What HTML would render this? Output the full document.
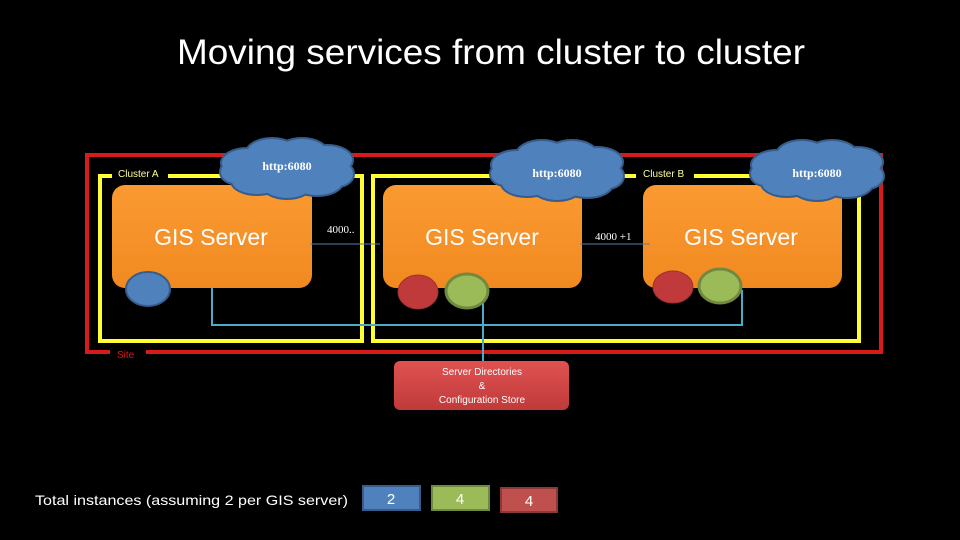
<!DOCTYPE html>
<html><head><meta charset="utf-8"><style>
html,body{margin:0;padding:0;background:#000;}
svg{display:block;}
text{font-family:"Liberation Sans",Calibri,sans-serif;}
</style></head><body>
<svg width="960" height="540" viewBox="0 0 960 540" xmlns="http://www.w3.org/2000/svg">
<defs>
<linearGradient id="og" x1="0" y1="0" x2="0" y2="1"><stop offset="0" stop-color="#fb9a32"/><stop offset="1" stop-color="#f08a20"/></linearGradient>
<linearGradient id="rg" x1="0" y1="0" x2="0" y2="1"><stop offset="0" stop-color="#e05252"/><stop offset="1" stop-color="#c03a3a"/></linearGradient>
<g id="cloud">
<g fill="#4f81bd" stroke="#385d8a" stroke-width="4">
<ellipse cx="-40" cy="-5" rx="25" ry="14"/><ellipse cx="-15" cy="-15" rx="25" ry="14"/><ellipse cx="15" cy="-15" rx="25" ry="14"/><ellipse cx="40" cy="-8" rx="25" ry="14"/><ellipse cx="50" cy="6" rx="16" ry="12"/><ellipse cx="30" cy="14" rx="25" ry="13"/><ellipse cx="0" cy="16" rx="25" ry="14"/><ellipse cx="-30" cy="13" rx="25" ry="13"/><ellipse cx="-52" cy="4" rx="14" ry="11"/>
</g>
<g fill="#4f81bd">
<ellipse cx="-40" cy="-5" rx="25" ry="14"/><ellipse cx="-15" cy="-15" rx="25" ry="14"/><ellipse cx="15" cy="-15" rx="25" ry="14"/><ellipse cx="40" cy="-8" rx="25" ry="14"/><ellipse cx="50" cy="6" rx="16" ry="12"/><ellipse cx="30" cy="14" rx="25" ry="13"/><ellipse cx="0" cy="16" rx="25" ry="14"/><ellipse cx="-30" cy="13" rx="25" ry="13"/><ellipse cx="-52" cy="4" rx="14" ry="11"/><ellipse cx="0" cy="0" rx="50" ry="18"/>
</g>
</g>
</defs>
<text x="177" y="64" font-size="35" fill="#fff" textLength="628" lengthAdjust="spacingAndGlyphs">Moving services from cluster to cluster</text>

<rect x="87" y="155" width="794" height="197" fill="none" stroke="#d71a1a" stroke-width="4"/>
<rect x="110" y="346" width="36" height="12" fill="#000"/>
<text x="117" y="358" font-size="10" fill="#d71a1a">Site</text>

<rect x="100" y="176" width="262" height="165" fill="none" stroke="#ffff33" stroke-width="4"/>
<rect x="373" y="176" width="486" height="165" fill="none" stroke="#ffff33" stroke-width="4"/>
<rect x="112" y="168" width="56" height="14" fill="#000"/>
<text x="118" y="177" font-size="10" fill="#ffff99">Cluster A</text>
<rect x="636" y="168" width="58" height="14" fill="#000"/>
<text x="643" y="177" font-size="10" fill="#ffff99">Cluster B</text>

<rect x="112" y="185" width="200" height="103" rx="13" fill="url(#og)"/>
<rect x="383" y="185" width="199" height="103" rx="13" fill="url(#og)"/>
<rect x="643" y="185" width="199" height="103" rx="13" fill="url(#og)"/>
<text x="211" y="245" font-size="23" fill="#fff" text-anchor="middle">GIS Server</text>
<text x="482" y="245" font-size="23" fill="#fff" text-anchor="middle">GIS Server</text>
<text x="741" y="245" font-size="23" fill="#fff" text-anchor="middle">GIS Server</text>

<line x1="310" y1="244" x2="380" y2="244" stroke="#5a7ba8" stroke-width="1"/>
<line x1="580" y1="244" x2="650" y2="244" stroke="#5a7ba8" stroke-width="1"/>
<text x="327" y="233" font-size="11" fill="#fff" style="font-family:'Liberation Serif',serif">4000..</text>
<text x="595" y="240" font-size="11" fill="#fff" style="font-family:'Liberation Serif',serif">4000 +1</text>

<polyline points="212,288 212,325 742,325 742,290" fill="none" stroke="#4bacc6" stroke-width="2"/>
<line x1="483" y1="300" x2="483" y2="362" stroke="#4bacc6" stroke-width="2"/>

<ellipse cx="148" cy="289" rx="22" ry="17" fill="#4f81bd" stroke="#385d8a" stroke-width="2"/>
<ellipse cx="418" cy="292" rx="20" ry="17" fill="#c0393b" stroke="#a03030" stroke-width="1"/>
<ellipse cx="467" cy="291" rx="21" ry="17" fill="#9bbb59" stroke="#71893f" stroke-width="3"/>
<ellipse cx="673" cy="287" rx="20" ry="16" fill="#c0393b" stroke="#a03030" stroke-width="1"/>
<ellipse cx="720" cy="286" rx="21" ry="17" fill="#9bbb59" stroke="#71893f" stroke-width="3"/>

<use href="#cloud" transform="translate(287,168)"/>
<use href="#cloud" transform="translate(557,170)"/>
<use href="#cloud" transform="translate(817,170)"/>
<text x="287" y="170" font-size="12" font-weight="bold" fill="#fff" text-anchor="middle" style="font-family:'Liberation Serif',serif">http:6080</text>
<text x="557" y="177" font-size="12" font-weight="bold" fill="#fff" text-anchor="middle" style="font-family:'Liberation Serif',serif">http:6080</text>
<text x="817" y="177" font-size="12" font-weight="bold" fill="#fff" text-anchor="middle" style="font-family:'Liberation Serif',serif">http:6080</text>

<rect x="394" y="361" width="175" height="49" rx="6" fill="url(#rg)"/>
<text x="482" y="375" font-size="10" fill="#fff" text-anchor="middle">Server Directories</text>
<text x="482" y="389" font-size="10" fill="#fff" text-anchor="middle">&amp;</text>
<text x="482" y="403" font-size="10" fill="#fff" text-anchor="middle">Configuration Store</text>

<text x="35" y="505" font-size="14" fill="#fff" textLength="313" lengthAdjust="spacingAndGlyphs">Total instances (assuming 2 per GIS server)</text>
<rect x="363" y="486" width="57" height="24" fill="#4f81bd" stroke="#385d8a" stroke-width="2"/>
<text x="391" y="504" font-size="15" fill="#fff" text-anchor="middle">2</text>
<rect x="432" y="486" width="57" height="24" fill="#9bbb59" stroke="#71893f" stroke-width="2"/>
<text x="460" y="504" font-size="15" fill="#fff" text-anchor="middle">4</text>
<rect x="501" y="488" width="56" height="24" fill="#c0504d" stroke="#8c3836" stroke-width="2"/>
<text x="529" y="506" font-size="15" fill="#fff" text-anchor="middle">4</text>
</svg>
</body></html>
